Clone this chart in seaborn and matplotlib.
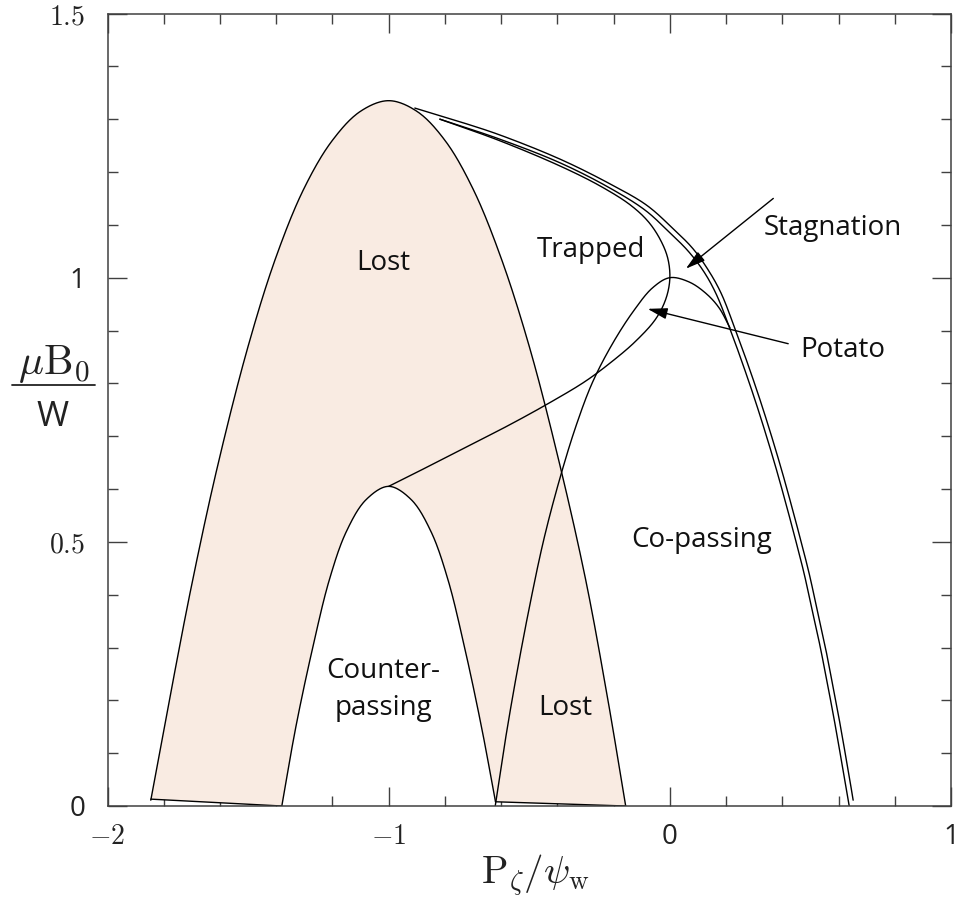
import numpy as np
import pandas as pd
import matplotlib
matplotlib.use("Agg")
import matplotlib.pyplot as plt
import seaborn as sns
from matplotlib.ticker import MultipleLocator, FixedLocator
from matplotlib.lines import Line2D

# ---- Orbit-class boundaries in the (P_zeta/psi_w, mu B0/W) plane ----
# Outer boundary of the lost region (left foot -> peak -> right foot)
lost_outer_x = [-1.846, -1.78, -1.70, -1.61, -1.50, -1.40, -1.30, -1.20, -1.10, -1.0,
                -0.90, -0.80, -0.70, -0.60, -0.50, -0.40, -0.30, -0.22, -0.157]
lost_outer_y = [0.011, 0.20, 0.42, 0.64, 0.87, 1.04, 1.17, 1.26, 1.315, 1.335,
                1.315, 1.26, 1.168, 1.037, 0.87, 0.665, 0.43, 0.20, 0.0]

# Counter-passing boundary (inner arch)
counter_x = [-1.38, -1.33, -1.27, -1.21, -1.15, -1.08, -1.0, -0.92, -0.85, -0.79, -0.73, -0.67, -0.62]
counter_y = [0.0, 0.15, 0.30, 0.43, 0.52, 0.58, 0.605, 0.58, 0.52, 0.43, 0.30, 0.15, 0.008]

# Trapped / passing boundary
trapped_x = [-0.818, -0.604, -0.389, -0.246, -0.139, -0.075, -0.032, -0.007, 0.0,
             -0.014, -0.05, -0.121, -0.204, -0.300, -0.425, -0.568, -0.711, -0.854, -1.0]
trapped_y = [1.300, 1.259, 1.211, 1.173, 1.137, 1.105, 1.070, 1.036, 0.998,
             0.960, 0.922, 0.880, 0.842, 0.804, 0.764, 0.722, 0.683, 0.644, 0.605]

# Stagnation boundaries (two close curves)
stag1_x = [-0.907, -0.746, -0.604, -0.389, -0.211, -0.082, 0.011, 0.082, 0.136, 0.182,
           0.232, 0.277, 0.320, 0.360, 0.397, 0.432, 0.465, 0.496, 0.524, 0.551,
           0.576, 0.600, 0.622, 0.643, 0.652]
stag1_y = [1.321, 1.295, 1.270, 1.224, 1.177, 1.137, 1.093, 1.055, 1.015, 0.971,
           0.903, 0.837, 0.770, 0.703, 0.637, 0.570, 0.504, 0.439, 0.371, 0.306,
           0.238, 0.171, 0.105, 0.040, 0.011]
stag2_x = [-0.818, -0.604, -0.389, -0.211, -0.086, -0.004, 0.064, 0.119, 0.164, 0.214,
           0.259, 0.302, 0.342, 0.379, 0.414, 0.447, 0.478, 0.506, 0.533, 0.558,
           0.582, 0.604, 0.625, 0.638]
stag2_y = [1.300, 1.262, 1.217, 1.169, 1.127, 1.087, 1.051, 1.013, 0.970, 0.903,
           0.837, 0.770, 0.703, 0.637, 0.570, 0.504, 0.439, 0.371, 0.306, 0.238,
           0.171, 0.105, 0.040, 0.0]

# Co-passing / potato boundary
potato_x = [-0.621, -0.586, -0.546, -0.500, -0.448, -0.389, -0.332, -0.275, -0.204,
            -0.129, -0.061, 0.0, 0.068, 0.129, 0.175, 0.214]
potato_y = [0.0, 0.122, 0.246, 0.375, 0.505, 0.624, 0.722, 0.802, 0.875,
            0.937, 0.981, 1.0, 0.992, 0.970, 0.943, 0.905]

# Short closing segments along the axis
foot_left_x = [-1.846, -1.38]
foot_left_y = [0.013, 0.0]
foot_right_x = [-0.62, -0.157]
foot_right_y = [0.008, 0.0]

x_ticks = [-2, -1, 0, 1]
x_tick_labels = [r"$-2$", r"$-1$", "0", "1"]
y_ticks = [0, 0.5, 1, 1.5]
y_tick_labels = ["0", r"$0.5$", "1", r"$1.5$"]

region_labels = [
    ("Lost", -1.02, 1.015),
    ("Trapped", -0.282, 1.04),
    ("Stagnation", 0.578, 1.081),
    ("Potato", 0.614, 0.85),
    ("Co-passing", 0.114, 0.49),
    ("Counter-", -1.02, 0.243),
    ("passing", -1.02, 0.173),
    ("Lost", -0.371, 0.173),
]

XSCALE = 280.0
YSCALE = 526.0


def smooth(xs, ys, n=24):
    """Centripetal Catmull-Rom curve through the given points (in screen-like units)."""
    p = np.column_stack([np.asarray(xs) * XSCALE, np.asarray(ys) * YSCALE])
    p = np.vstack([2 * p[0] - p[1], p, 2 * p[-1] - p[-2]])
    out = []
    for i in range(1, len(p) - 2):
        p0, p1, p2, p3 = p[i - 1], p[i], p[i + 1], p[i + 2]
        t0 = 0.0
        t1 = t0 + max(np.linalg.norm(p1 - p0), 1e-6) ** 0.5
        t2 = t1 + max(np.linalg.norm(p2 - p1), 1e-6) ** 0.5
        t3 = t2 + max(np.linalg.norm(p3 - p2), 1e-6) ** 0.5
        t = np.linspace(t1, t2, n, endpoint=False)[:, None]
        a1 = (t1 - t) / (t1 - t0) * p0 + (t - t0) / (t1 - t0) * p1
        a2 = (t2 - t) / (t2 - t1) * p1 + (t - t1) / (t2 - t1) * p2
        a3 = (t3 - t) / (t3 - t2) * p2 + (t - t2) / (t3 - t2) * p3
        b1 = (t2 - t) / (t2 - t0) * a1 + (t - t0) / (t2 - t0) * a2
        b2 = (t3 - t) / (t3 - t1) * a2 + (t - t1) / (t3 - t1) * a3
        out.append((t2 - t) / (t2 - t1) * b1 + (t - t1) / (t2 - t1) * b2)
    out.append(p[-2][None])
    c = np.vstack(out)
    return c[:, 0] / XSCALE, c[:, 1] / YSCALE


sns.set_theme(style="ticks")
plt.rcParams["font.family"] = ["Open Sans", "DejaVu Sans"]
plt.rcParams["mathtext.fontset"] = "cm"

fig = plt.figure(figsize=(9.58, 9.09), dpi=100)
ax = fig.add_axes([107.5 / 958, 1 - 806 / 909, (951 - 107.5) / 958, (806 - 13.5) / 909])

fill_color = "#f9ebe2"
line_kw = dict(color="black", linewidth=1.0, sort=False, estimator=None, ax=ax, legend=False)

ox, oy = smooth(lost_outer_x, lost_outer_y)
cx, cy = smooth(counter_x, counter_y)
poly_x = np.concatenate([ox, foot_right_x[::-1], cx[::-1], foot_left_x[::-1]])
poly_y = np.concatenate([oy, foot_right_y[::-1], cy[::-1], foot_left_y[::-1]])
ax.fill(poly_x, poly_y, color=fill_color, linewidth=0, zorder=1)

curves = [
    (lost_outer_x, lost_outer_y),
    (counter_x, counter_y),
    (trapped_x, trapped_y),
    (stag1_x, stag1_y),
    (stag2_x, stag2_y),
    (potato_x, potato_y),
]
for cxs, cys in curves:
    sx, sy = smooth(cxs, cys)
    sns.lineplot(data=pd.DataFrame({"x": sx, "y": sy}), x="x", y="y", **line_kw)
for fx, fy in [(foot_left_x, foot_left_y), (foot_right_x, foot_right_y)]:
    sns.lineplot(data=pd.DataFrame({"x": fx, "y": fy}), x="x", y="y", **line_kw)

for text, tx, ty in region_labels:
    ax.text(tx, ty, text, ha="center", va="baseline", fontsize=20, color="#111111")

arrow_kw = dict(arrowstyle="-|>,head_length=0.6,head_width=0.17", color="black",
                lw=1.0, mutation_scale=20, shrinkA=0, shrinkB=0)
ax.annotate("", xy=(0.057, 1.017), xytext=(0.368, 1.15), arrowprops=arrow_kw)
ax.annotate("", xy=(-0.079, 0.941), xytext=(0.421, 0.875), arrowprops=arrow_kw)

ax.set_xlim(-2, 1)
ax.set_ylim(0, 1.5)
ax.set_xlabel("")
ax.set_ylabel("")

ax.xaxis.set_major_locator(FixedLocator(x_ticks))
ax.yaxis.set_major_locator(FixedLocator(y_ticks))
ax.xaxis.set_minor_locator(MultipleLocator(0.2))
ax.yaxis.set_minor_locator(MultipleLocator(0.1))
ax.set_xticklabels(x_tick_labels)
ax.set_yticklabels(y_tick_labels)

spine_color = "#404040"
for s in ax.spines.values():
    s.set_visible(True)
    s.set_color(spine_color)
    s.set_linewidth(1.1)
ax.tick_params(which="both", direction="in", top=True, right=True, color=spine_color, width=1.0)
ax.tick_params(which="major", length=14, labelsize=20, labelcolor="#222222")
ax.tick_params(which="minor", length=7)
ax.tick_params(axis="x", which="major", pad=12)
ax.tick_params(axis="y", which="major", pad=16)
for lab in ax.get_xticklabels() + ax.get_yticklabels():
    if not lab.get_text().startswith("$"):
        lab.set_fontfamily(["Open Sans", "DejaVu Sans"])

# Axis titles
fig.text(535 / 958, 1 - 884 / 909, r"$\mathrm{P}_{\zeta}/\psi_{\mathrm{w}}$", ha="center",
         va="baseline", fontsize=28, color="#222222")
fig.text(54 / 958, 1 - 374 / 909, r"$\mu\mathrm{B}_0$", ha="center", va="baseline",
         fontsize=30, color="#222222")
fig.add_artist(Line2D([12 / 958, 95 / 958], [1 - 385 / 909, 1 - 385 / 909],
                      color="#222222", linewidth=1.3))
fig.text(53 / 958, 1 - 426 / 909, "W", ha="center", va="baseline",
         fontsize=25, color="#222222")

fig.savefig("out.png", dpi=100)
